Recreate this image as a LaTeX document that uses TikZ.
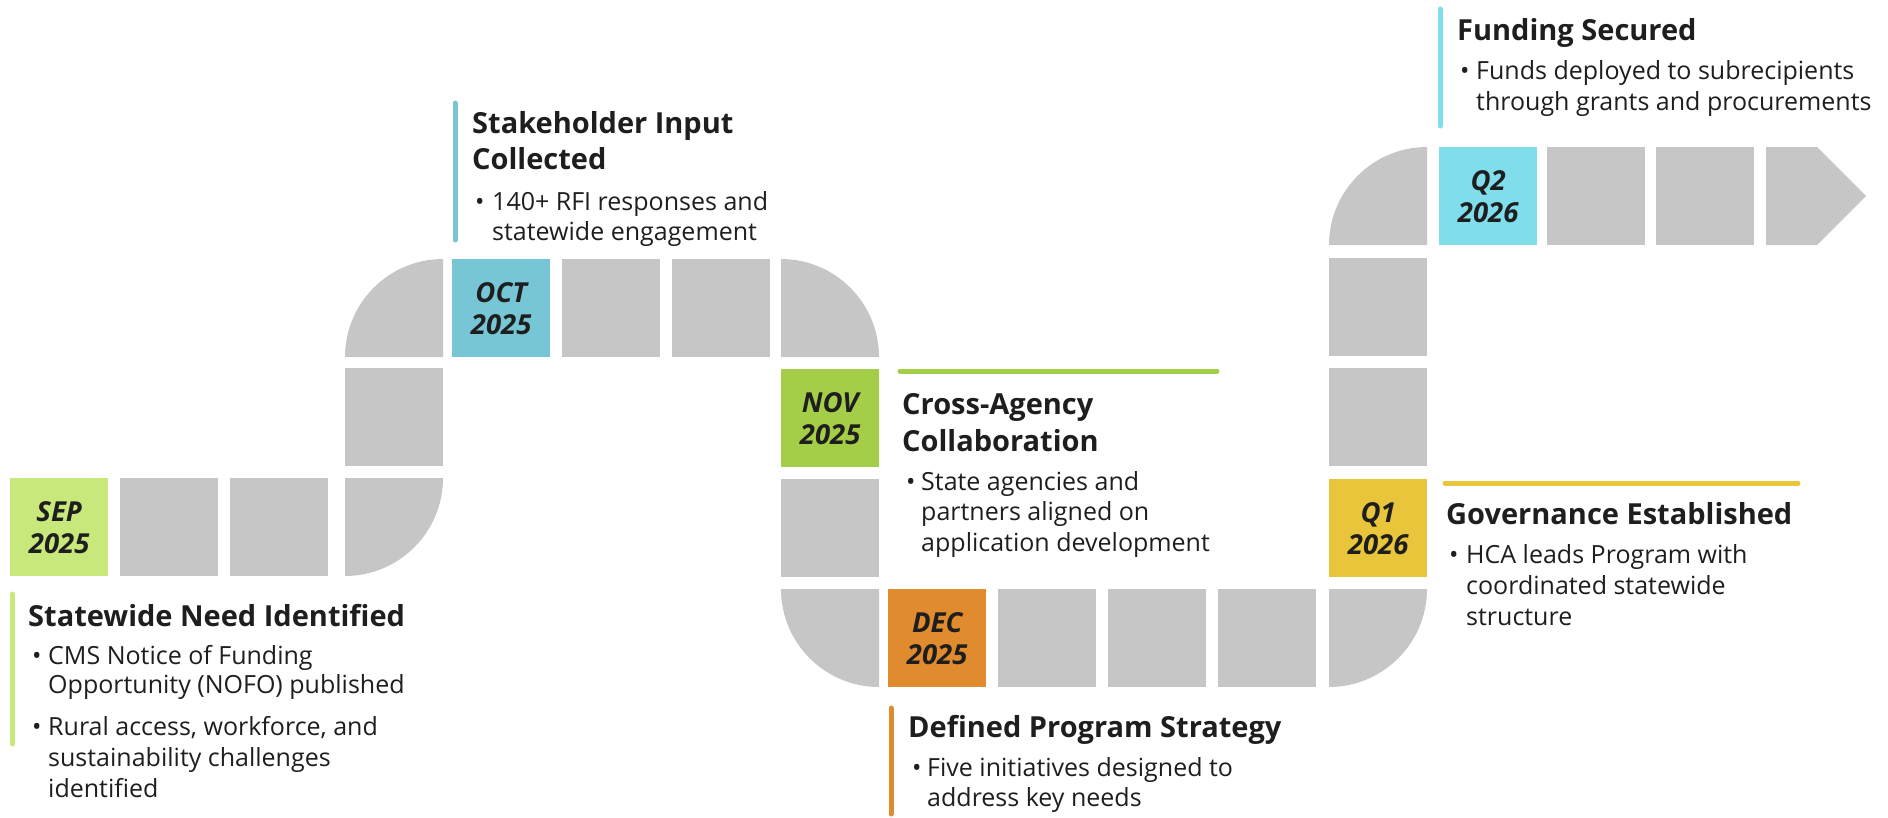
\documentclass[tikz,border=0pt]{standalone}
\usepackage{fontspec}
\setmainfont{Open Sans}
\definecolor{cellgray}{HTML}{C6C6C6}
\definecolor{ink}{HTML}{1E1E1E}
\definecolor{sepc}{HTML}{C8E87C}
\definecolor{octc}{HTML}{76C6D5}
\definecolor{novc}{HTML}{A5CE48}
\definecolor{decc}{HTML}{E08B2E}
\definecolor{qonec}{HTML}{E8C53B}
\definecolor{qtwoc}{HTML}{80DDEB}
\begin{document}
\begin{tikzpicture}[x=1pt,y=-1pt,
  cell/.style={fill=cellgray, minimum width=98pt, minimum height=98pt, inner sep=0pt,
    anchor=north west, align=center, text=ink,
    font=\fontsize{27.5}{32}\selectfont\bfseries\itshape},
  corner/.style={fill=cellgray},
  head/.style={anchor=base west, inner sep=0pt, text=ink, font=\fontsize{29}{36}\selectfont\bfseries},
  body/.style={anchor=base west, inner sep=0pt, text=ink, font=\fontsize{25}{30}\selectfont},
  bar/.style={line width=5pt, line cap=round}]
\useasboundingbox (0,0) rectangle (1888,817);
% ---- row D (SEP)
\node[cell, fill=sepc] (sep) at (10,478) {SEP\\2025};
\node[cell] (d1) at (120,478) {};
\node[cell] (d2) at (230,478) {};
\fill[corner] (345,478) -- (443,478) .. controls (443,532.1) and (399.1,576) .. (345,576) -- cycle;
% ---- column c3
\node[cell] (c3a) at (345,368) {};
\fill[corner] (443,357) -- (345,357) .. controls (345,302.9) and (388.9,259) .. (443,259) -- cycle;
% ---- row B (OCT)
\node[cell, fill=octc] (oct) at (452,259) {OCT\\2025};
\node[cell] (b1) at (562,259) {};
\node[cell] (b2) at (672,259) {};
\fill[corner] (781,357) -- (781,259) .. controls (835.1,259) and (879,302.9) .. (879,357) -- cycle;
% ---- column c7 (NOV)
\node[cell, fill=novc] (nov) at (781,369) {NOV\\2025};
\node[cell] (c7a) at (781,479) {};
\fill[corner] (879,589) -- (879,687) .. controls (824.9,687) and (781,643.1) .. (781,589) -- cycle;
% ---- row E (DEC)
\node[cell, fill=decc] (dec) at (888,589) {DEC\\2025};
\node[cell] (e1) at (998,589) {};
\node[cell] (e2) at (1108,589) {};
\node[cell] (e3) at (1218,589) {};
\fill[corner] (1329,589) -- (1427,589) .. controls (1427,643.1) and (1382.9,687) .. (1329,687) -- cycle;
% ---- column c12 (Q1)
\node[cell, fill=qonec] (qone) at (1329,479) {Q1\\2026};
\node[cell] (c12a) at (1329,368) {};
\node[cell] (c12b) at (1329,258) {};
\fill[corner] (1427,245) -- (1329,245) .. controls (1329,190.9) and (1372.9,147) .. (1427,147) -- cycle;
% ---- row A (Q2)
\node[cell, fill=qtwoc] (qtwo) at (1439,147) {Q2\\2026};
\node[cell] (a1) at (1547,147) {};
\node[cell] (a2) at (1656,147) {};
\fill[corner] (1766,147) -- (1817,147) -- (1866,196) -- (1817,245) -- (1766,245) -- cycle;
% ================= texts
% SEP
\draw[bar, sepc] (12.5,594) -- (12.5,744);
\node[head] (h1) at (28,626) {Statewide Need Identified};
\node[body] (b1a) at (32,664) {•};
\node[body] (t1a) at (48,664) {CMS Notice of Funding};
\node[body] (t1b) at (48,693) {Opportunity (NOFO) published};
\node[body] (b1b) at (32,735) {•};
\node[body] (t1c) at (48,735) {Rural access, workforce, and};
\node[body] (t1d) at (48,766) {sustainability challenges};
\node[body] (t1e) at (48,797) {identified};
% OCT
\draw[bar, octc] (455,103) -- (455,240);
\node[head] (h2a) at (472,133) {Stakeholder Input};
\node[head] (h2b) at (472,169) {Collected};
\node[body] (b2a) at (475,210) {•};
\node[body] (t2a) at (492,210) {140+ RFI responses and};
\node[body] (t2b) at (492,240) {statewide engagement};
% NOV
\draw[bar, novc] (900,371) -- (1217,371);
\node[head] (h3a) at (902,414) {Cross-Agency};
\node[head] (h3b) at (902,451) {Collaboration};
\node[body] (b3a) at (906,490) {•};
\node[body] (t3a) at (921,490) {State agencies and};
\node[body] (t3b) at (921,520) {partners aligned on};
\node[body] (t3c) at (921,551) {application development};
% DEC
\draw[bar, decc] (891,708) -- (891,814);
\node[head] (h4) at (908,737) {Defined Program Strategy};
\node[body] (b4a) at (912,776) {•};
\node[body] (t4a) at (927,776) {Five initiatives designed to};
\node[body] (t4b) at (927,806) {address key needs};
% Q1
\draw[bar, qonec] (1445,483) -- (1798,483);
\node[head] (h5) at (1446,524) {Governance Established};
\node[body] (b5a) at (1449,563) {•};
\node[body] (t5a) at (1466,563) {HCA leads Program with};
\node[body] (t5b) at (1466,594) {coordinated statewide};
\node[body] (t5c) at (1466,625) {structure};
% Q2
\draw[bar, qtwoc] (1440,9) -- (1440,126);
\node[head] (h6) at (1457,40) {Funding Secured};
\node[body] (b6a) at (1460,79) {•};
\node[body] (t6a) at (1476,79) {Funds deployed to subrecipients};
\node[body] (t6b) at (1476,110) {through grants and procurements};
\end{tikzpicture}
\end{document}
